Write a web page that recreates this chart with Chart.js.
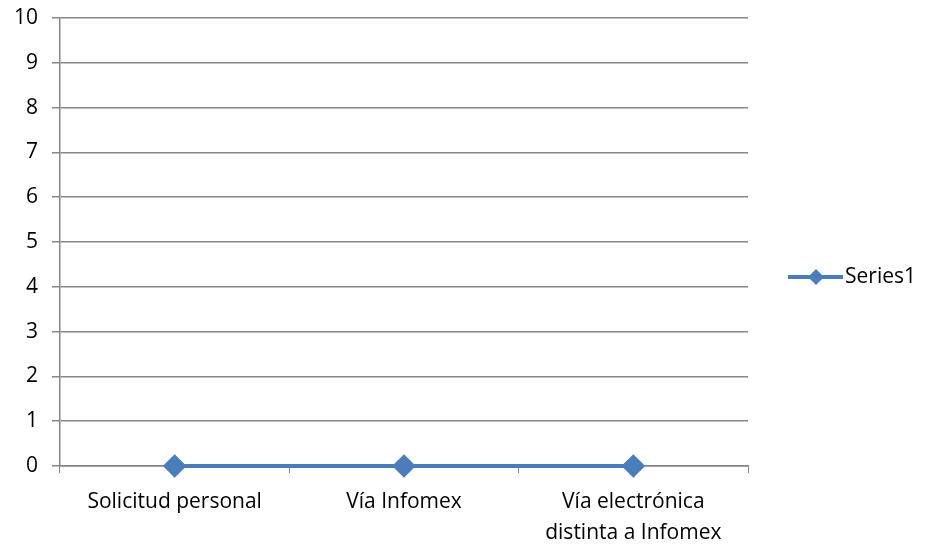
<!DOCTYPE html>
<html>
<head>
<meta charset="utf-8">
<script src="https://cdn.jsdelivr.net/npm/chart.js@4"></script>
<style>
  html, body { margin: 0; padding: 0; background: #fff; }
  #wrap { width: 925px; height: 548px; }
</style>
</head>
<body>
<div id="wrap"><canvas id="lineChart"></canvas></div>
<script>
// datos del gráfico
const categorias = ['Solicitud personal', 'Vía Infomex', ['Vía electrónica', 'distinta a Infomex']];
const serie1 = [0, 0, 0];
const nombreSerie = 'Series1';
const ejeY = { min: 0, max: 10, paso: 1 };

const azul = '#4a7ebb';
const gris = '#868686';
const fuente = "'Open Sans', sans-serif";

// leyenda a la derecha, dibujada a mano (línea + rombo + texto)
const leyendaExcel = {
    id: 'leyendaExcel',
    afterDraw(chart) {
        const ctx = chart.ctx;
        const y = 277;
        ctx.save();
        ctx.strokeStyle = azul;
        ctx.lineWidth = 4;
        ctx.beginPath();
        ctx.moveTo(788, y);
        ctx.lineTo(843, y);
        ctx.stroke();
        ctx.fillStyle = azul;
        ctx.beginPath();
        ctx.moveTo(816, y - 8);
        ctx.lineTo(824, y);
        ctx.lineTo(816, y + 8);
        ctx.lineTo(808, y);
        ctx.closePath();
        ctx.fill();
        ctx.fillStyle = '#000';
        ctx.font = '21px ' + fuente;
        ctx.textAlign = 'left';
        ctx.textBaseline = 'middle';
        ctx.fillText(nombreSerie, 845, y);
        ctx.restore();
    }
};

const ctx = document.getElementById('lineChart').getContext('2d');
new Chart(ctx, {
    type: 'line',
    data: {
        labels: categorias,
        datasets: [{
            label: nombreSerie,
            data: serie1,
            borderColor: azul,
            backgroundColor: azul,
            borderWidth: 4,
            pointStyle: 'rectRot',
            pointRadius: 9,
            pointHoverRadius: 9,
            clip: false,
            tension: 0
        }]
    },
    options: {
        responsive: true,
        maintainAspectRatio: false,
        animation: false,
        layout: { padding: { top: 18, right: 177, bottom: 0, left: 0 } },
        plugins: {
            legend: { display: false },
            tooltip: { enabled: false }
        },
        scales: {
            x: {
                offset: true,
                grid: {
                    offset: true,
                    drawOnChartArea: false,
                    drawTicks: true,
                    tickLength: 7,
                    color: gris
                },
                border: { color: gris, width: 1.5 },
                ticks: {
                    color: '#000',
                    font: { family: fuente, size: 21, lineHeight: 1.5 },
                    padding: 13,
                    maxRotation: 0
                },
                afterFit(scale) { scale.height = 82; }
            },
            y: {
                min: ejeY.min,
                max: ejeY.max,
                grid: {
                    color: gris,
                    lineWidth: 1.5,
                    tickLength: 8
                },
                border: { color: gris, width: 1.5 },
                ticks: {
                    stepSize: ejeY.paso,
                    color: '#000',
                    font: { family: fuente, size: 21 },
                    padding: 14
                },
                afterFit(scale) {
                    scale.width = 60;
                    scale.paddingTop = 0;
                    scale.paddingBottom = 0;
                }
            }
        }
    },
    plugins: [leyendaExcel]
});
</script>
</body>
</html>
